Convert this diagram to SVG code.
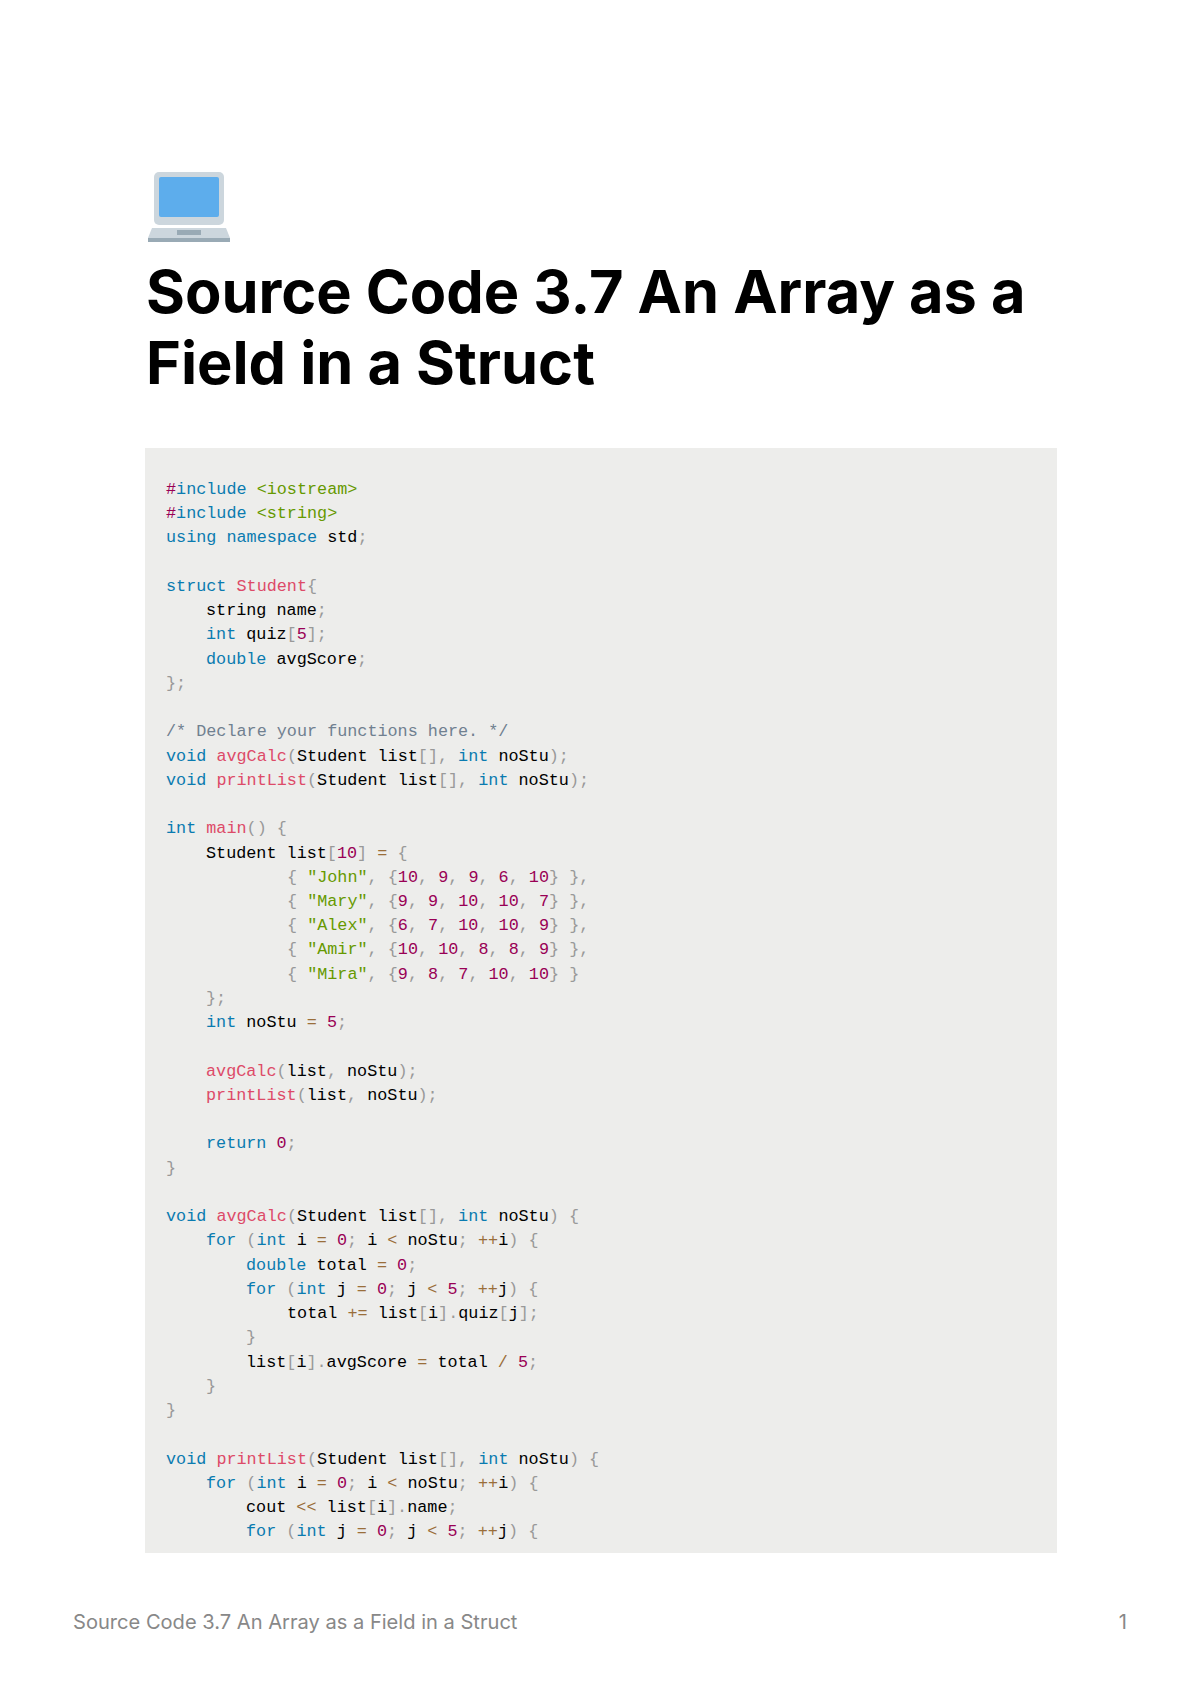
<svg xmlns="http://www.w3.org/2000/svg" width="1200" height="1698" viewBox="0 0 1200 1698">
<style>
.code{font-family:"Liberation Mono",monospace;font-size:16.8px;fill:#000;white-space:pre}
.k{fill:#0a7bb0}.f{fill:#dd4a68}.s{fill:#669900}.n{fill:#990055}.p{fill:#999}.o{fill:#9a6e3a}.c{fill:#708090}
.title{font-family:Inter,"Liberation Sans",sans-serif;font-weight:700;font-size:59.5px;fill:#000}
.foot{font-family:Inter,"Liberation Sans",sans-serif;font-size:20.1px;fill:#888}
</style>
<rect width="1200" height="1698" fill="#fff"/>
<g id="laptop">
<rect x="154" y="172" width="70" height="53" rx="5" fill="#ccd6dd"/>
<rect x="159" y="177" width="60" height="40" rx="2" fill="#5dadec"/>
<path d="M152 228 H226 L230 238 H148 Z" fill="#ccd6dd"/>
<rect x="148" y="238" width="82" height="4" fill="#99aab5"/>
<rect x="177" y="230" width="24" height="5" fill="#99aab5"/>
</g>
<g id="title">
<text class="title" x="146" y="313">Source Code 3.7 An Array as a</text>
<text class="title" x="146" y="384">Field in a Struct</text>
</g>
<g id="codeblock">
<rect x="145" y="448" width="912" height="1105" fill="#ededeb"/>
<g transform="translate(-1,0)">
<text class="code" x="167" y="494"><tspan class="n">#</tspan><tspan class="k">include</tspan> <tspan class="s">&lt;iostream&gt;</tspan></text>
<text class="code" x="167" y="518"><tspan class="n">#</tspan><tspan class="k">include</tspan> <tspan class="s">&lt;string&gt;</tspan></text>
<text class="code" x="167" y="542"><tspan class="k">using</tspan> <tspan class="k">namespace</tspan> std<tspan class="p">;</tspan></text>
<text class="code" x="167" y="591"><tspan class="k">struct</tspan> <tspan class="f">Student</tspan><tspan class="p">{</tspan></text>
<text class="code" x="207" y="615">string name<tspan class="p">;</tspan></text>
<text class="code" x="207" y="639"><tspan class="k">int</tspan> quiz<tspan class="p">[</tspan><tspan class="n">5</tspan><tspan class="p">];</tspan></text>
<text class="code" x="207" y="664"><tspan class="k">double</tspan> avgScore<tspan class="p">;</tspan></text>
<text class="code" x="167" y="688"><tspan class="p">};</tspan></text>
<text class="code" x="167" y="736"><tspan class="c">/* Declare your functions here. */</tspan></text>
<text class="code" x="167" y="761"><tspan class="k">void</tspan> <tspan class="f">avgCalc</tspan><tspan class="p">(</tspan>Student list<tspan class="p">[],</tspan> <tspan class="k">int</tspan> noStu<tspan class="p">);</tspan></text>
<text class="code" x="167" y="785"><tspan class="k">void</tspan> <tspan class="f">printList</tspan><tspan class="p">(</tspan>Student list<tspan class="p">[],</tspan> <tspan class="k">int</tspan> noStu<tspan class="p">);</tspan></text>
<text class="code" x="167" y="833"><tspan class="k">int</tspan> <tspan class="f">main</tspan><tspan class="p">()</tspan> <tspan class="p">{</tspan></text>
<text class="code" x="207" y="858">Student list<tspan class="p">[</tspan><tspan class="n">10</tspan><tspan class="p">]</tspan> <tspan class="o">=</tspan> <tspan class="p">{</tspan></text>
<text class="code" x="288" y="882"><tspan class="p">{</tspan> <tspan class="s">"John"</tspan><tspan class="p">,</tspan> <tspan class="p">{</tspan><tspan class="n">10</tspan><tspan class="p">,</tspan> <tspan class="n">9</tspan><tspan class="p">,</tspan> <tspan class="n">9</tspan><tspan class="p">,</tspan> <tspan class="n">6</tspan><tspan class="p">,</tspan> <tspan class="n">10</tspan><tspan class="p">}</tspan> <tspan class="p">},</tspan></text>
<text class="code" x="288" y="906"><tspan class="p">{</tspan> <tspan class="s">"Mary"</tspan><tspan class="p">,</tspan> <tspan class="p">{</tspan><tspan class="n">9</tspan><tspan class="p">,</tspan> <tspan class="n">9</tspan><tspan class="p">,</tspan> <tspan class="n">10</tspan><tspan class="p">,</tspan> <tspan class="n">10</tspan><tspan class="p">,</tspan> <tspan class="n">7</tspan><tspan class="p">}</tspan> <tspan class="p">},</tspan></text>
<text class="code" x="288" y="930"><tspan class="p">{</tspan> <tspan class="s">"Alex"</tspan><tspan class="p">,</tspan> <tspan class="p">{</tspan><tspan class="n">6</tspan><tspan class="p">,</tspan> <tspan class="n">7</tspan><tspan class="p">,</tspan> <tspan class="n">10</tspan><tspan class="p">,</tspan> <tspan class="n">10</tspan><tspan class="p">,</tspan> <tspan class="n">9</tspan><tspan class="p">}</tspan> <tspan class="p">},</tspan></text>
<text class="code" x="288" y="954"><tspan class="p">{</tspan> <tspan class="s">"Amir"</tspan><tspan class="p">,</tspan> <tspan class="p">{</tspan><tspan class="n">10</tspan><tspan class="p">,</tspan> <tspan class="n">10</tspan><tspan class="p">,</tspan> <tspan class="n">8</tspan><tspan class="p">,</tspan> <tspan class="n">8</tspan><tspan class="p">,</tspan> <tspan class="n">9</tspan><tspan class="p">}</tspan> <tspan class="p">},</tspan></text>
<text class="code" x="288" y="979"><tspan class="p">{</tspan> <tspan class="s">"Mira"</tspan><tspan class="p">,</tspan> <tspan class="p">{</tspan><tspan class="n">9</tspan><tspan class="p">,</tspan> <tspan class="n">8</tspan><tspan class="p">,</tspan> <tspan class="n">7</tspan><tspan class="p">,</tspan> <tspan class="n">10</tspan><tspan class="p">,</tspan> <tspan class="n">10</tspan><tspan class="p">}</tspan> <tspan class="p">}</tspan></text>
<text class="code" x="207" y="1003"><tspan class="p">};</tspan></text>
<text class="code" x="207" y="1027"><tspan class="k">int</tspan> noStu <tspan class="o">=</tspan> <tspan class="n">5</tspan><tspan class="p">;</tspan></text>
<text class="code" x="207" y="1076"><tspan class="f">avgCalc</tspan><tspan class="p">(</tspan>list<tspan class="p">,</tspan> noStu<tspan class="p">);</tspan></text>
<text class="code" x="207" y="1100"><tspan class="f">printList</tspan><tspan class="p">(</tspan>list<tspan class="p">,</tspan> noStu<tspan class="p">);</tspan></text>
<text class="code" x="207" y="1148"><tspan class="k">return</tspan> <tspan class="n">0</tspan><tspan class="p">;</tspan></text>
<text class="code" x="167" y="1173"><tspan class="p">}</tspan></text>
<text class="code" x="167" y="1221"><tspan class="k">void</tspan> <tspan class="f">avgCalc</tspan><tspan class="p">(</tspan>Student list<tspan class="p">[],</tspan> <tspan class="k">int</tspan> noStu<tspan class="p">)</tspan> <tspan class="p">{</tspan></text>
<text class="code" x="207" y="1245"><tspan class="k">for</tspan> <tspan class="p">(</tspan><tspan class="k">int</tspan> i <tspan class="o">=</tspan> <tspan class="n">0</tspan><tspan class="p">;</tspan> i <tspan class="o">&lt;</tspan> noStu<tspan class="p">;</tspan> <tspan class="o">++</tspan>i<tspan class="p">)</tspan> <tspan class="p">{</tspan></text>
<text class="code" x="247" y="1270"><tspan class="k">double</tspan> total <tspan class="o">=</tspan> <tspan class="n">0</tspan><tspan class="p">;</tspan></text>
<text class="code" x="247" y="1294"><tspan class="k">for</tspan> <tspan class="p">(</tspan><tspan class="k">int</tspan> j <tspan class="o">=</tspan> <tspan class="n">0</tspan><tspan class="p">;</tspan> j <tspan class="o">&lt;</tspan> <tspan class="n">5</tspan><tspan class="p">;</tspan> <tspan class="o">++</tspan>j<tspan class="p">)</tspan> <tspan class="p">{</tspan></text>
<text class="code" x="288" y="1318">total <tspan class="o">+=</tspan> list<tspan class="p">[</tspan>i<tspan class="p">].</tspan>quiz<tspan class="p">[</tspan>j<tspan class="p">];</tspan></text>
<text class="code" x="247" y="1342"><tspan class="p">}</tspan></text>
<text class="code" x="247" y="1367">list<tspan class="p">[</tspan>i<tspan class="p">].</tspan>avgScore <tspan class="o">=</tspan> total <tspan class="o">/</tspan> <tspan class="n">5</tspan><tspan class="p">;</tspan></text>
<text class="code" x="207" y="1391"><tspan class="p">}</tspan></text>
<text class="code" x="167" y="1415"><tspan class="p">}</tspan></text>
<text class="code" x="167" y="1464"><tspan class="k">void</tspan> <tspan class="f">printList</tspan><tspan class="p">(</tspan>Student list<tspan class="p">[],</tspan> <tspan class="k">int</tspan> noStu<tspan class="p">)</tspan> <tspan class="p">{</tspan></text>
<text class="code" x="207" y="1488"><tspan class="k">for</tspan> <tspan class="p">(</tspan><tspan class="k">int</tspan> i <tspan class="o">=</tspan> <tspan class="n">0</tspan><tspan class="p">;</tspan> i <tspan class="o">&lt;</tspan> noStu<tspan class="p">;</tspan> <tspan class="o">++</tspan>i<tspan class="p">)</tspan> <tspan class="p">{</tspan></text>
<text class="code" x="247" y="1512">cout <tspan class="o">&lt;&lt;</tspan> list<tspan class="p">[</tspan>i<tspan class="p">].</tspan>name<tspan class="p">;</tspan></text>
<text class="code" x="247" y="1536"><tspan class="k">for</tspan> <tspan class="p">(</tspan><tspan class="k">int</tspan> j <tspan class="o">=</tspan> <tspan class="n">0</tspan><tspan class="p">;</tspan> j <tspan class="o">&lt;</tspan> <tspan class="n">5</tspan><tspan class="p">;</tspan> <tspan class="o">++</tspan>j<tspan class="p">)</tspan> <tspan class="p">{</tspan></text>
</g>
</g>
<g id="footer">
<text class="foot" x="73" y="1629">Source Code 3.7 An Array as a Field in a Struct</text>
<text class="foot" x="1127" y="1629" text-anchor="end" fill="#555">1</text>
</g>
</svg>
